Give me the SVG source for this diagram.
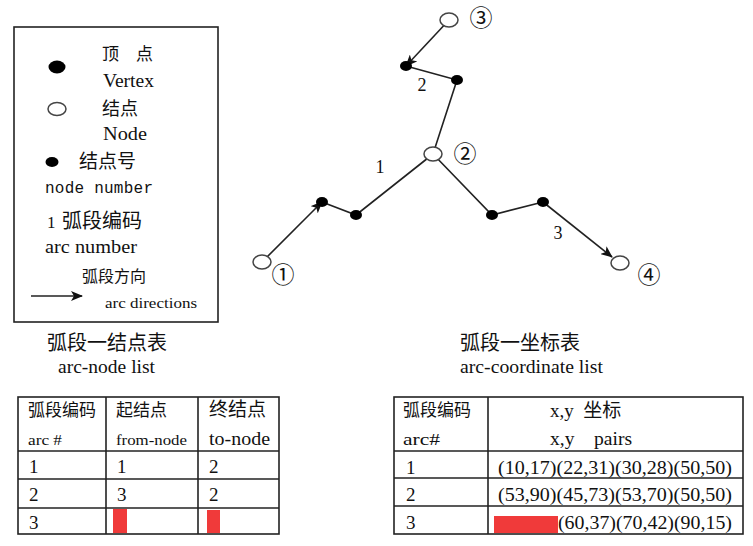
<svg xmlns="http://www.w3.org/2000/svg" width="753" height="546" viewBox="0 0 753 546">
<defs>
<marker id="ah" markerWidth="12" markerHeight="10" refX="11" refY="5" orient="auto" markerUnits="userSpaceOnUse">
<path d="M0,0 L12,5 L0,10 L3,5 Z" fill="#111"/>
</marker>
</defs>
<style>
text{font-family:"Liberation Serif","Noto Sans CJK SC",serif;fill:#111;}
.cjk{font-family:"Noto Sans CJK SC","Liberation Serif",sans-serif;}
.mono{font-family:"Liberation Mono",monospace;}
.node{fill:#fff;stroke:#444;stroke-width:1.5;}
.vtx{fill:#000;}
.arc{fill:none;stroke:#222;stroke-width:1.6;}
.tbl{fill:none;stroke:#222;stroke-width:1.6;}
.red{fill:#f03a3a;}
</style>
<rect width="753" height="546" fill="#fff"/>

<g id="legend">
<rect x="14" y="27" width="204" height="295" fill="none" stroke="#222" stroke-width="1.6"/>
<ellipse cx="57" cy="67" rx="8.5" ry="6.5" class="vtx"/>
<text x="102" y="60" class="cjk" font-size="17" textLength="51">顶 点</text>
<text x="103" y="87" font-size="18" textLength="51" lengthAdjust="spacingAndGlyphs">Vertex</text>
<ellipse cx="57" cy="109" rx="9" ry="6.5" class="node"/>
<text x="102" y="115" class="cjk" font-size="18">结点</text>
<text x="103" y="140" font-size="18" textLength="44" lengthAdjust="spacingAndGlyphs">Node</text>
<ellipse cx="52" cy="162" rx="6.5" ry="5" class="vtx"/>
<text x="79" y="168" class="cjk" font-size="19">结点号</text>
<text x="45" y="193" class="mono" font-size="16" textLength="108">node number</text>
<text x="47" y="228" font-size="17">1</text>
<text x="62" y="228" class="cjk" font-size="20">弧段编码</text>
<text x="45" y="253" font-size="18" textLength="92" lengthAdjust="spacingAndGlyphs">arc number</text>
<text x="82" y="282" class="cjk" font-size="16">弧段方向</text>
<line x1="31" y1="296" x2="82" y2="296" class="arc" marker-end="url(#ah)"/>
<text x="105" y="308" font-size="14" textLength="92" lengthAdjust="spacingAndGlyphs">arc directions</text>
</g>

<g id="connectors">
<polyline class="arc" points="262,262 322,202" marker-end="url(#ah)"/>
<polyline class="arc" points="322,202 356,215 433,154"/>
<polyline class="arc" points="449,20 406,66" marker-end="url(#ah)"/>
<polyline class="arc" points="406,66 457,80 433,154"/>
<polyline class="arc" points="433,154 492,215 543,202"/>
<polyline class="arc" points="543,202 612,257" marker-end="url(#ah)"/>
</g>

<g id="vertices">
<ellipse cx="322" cy="202" rx="6" ry="5" class="vtx"/>
<ellipse cx="356" cy="215" rx="6" ry="5" class="vtx"/>
<ellipse cx="406" cy="66" rx="6" ry="5" class="vtx"/>
<ellipse cx="457" cy="80" rx="6" ry="5" class="vtx"/>
<ellipse cx="492" cy="215" rx="6" ry="5" class="vtx"/>
<ellipse cx="543" cy="202" rx="6" ry="5" class="vtx"/>
</g>

<g id="node1">
<ellipse cx="262" cy="262" rx="9" ry="7" class="node"/>
<text x="283" y="283" class="cjk" font-size="23" text-anchor="middle">①</text>
</g>
<g id="node2">
<ellipse cx="433" cy="154" rx="9" ry="7" class="node"/>
<text x="465" y="162" class="cjk" font-size="23" text-anchor="middle">②</text>
</g>
<g id="node3">
<ellipse cx="449" cy="20" rx="9" ry="7" class="node"/>
<text x="481" y="26" class="cjk" font-size="23" text-anchor="middle">③</text>
</g>
<g id="node4">
<ellipse cx="620" cy="263" rx="9" ry="7" class="node"/>
<text x="649" y="283" class="cjk" font-size="23" text-anchor="middle">④</text>
</g>

<g id="arc-labels">
<text x="380" y="173" font-size="18" text-anchor="middle">1</text>
<text x="422" y="91" font-size="18" text-anchor="middle">2</text>
<text x="558" y="239" font-size="18" text-anchor="middle">3</text>
</g>

<g id="arc-node-table">
<text x="47" y="350" class="cjk" font-size="20">弧段一结点表</text>
<text x="58" y="373" font-size="18" textLength="97" lengthAdjust="spacingAndGlyphs">arc-node list</text>
<rect x="18" y="397" width="261" height="137" class="tbl"/>
<line x1="106" y1="397" x2="106" y2="534" class="tbl"/>
<line x1="198" y1="397" x2="198" y2="534" class="tbl"/>
<line x1="18" y1="451" x2="279" y2="451" class="tbl"/>
<line x1="18" y1="479" x2="279" y2="479" class="tbl"/>
<line x1="18" y1="508" x2="279" y2="508" class="tbl"/>
<text x="28" y="416" class="cjk" font-size="17">弧段编码</text>
<text x="28" y="445" font-size="15" textLength="34" lengthAdjust="spacingAndGlyphs">arc #</text>
<text x="116" y="416" class="cjk" font-size="17">起结点</text>
<text x="116" y="445" font-size="15" textLength="71" lengthAdjust="spacingAndGlyphs">from-node</text>
<text x="209" y="416" class="cjk" font-size="19">终结点</text>
<text x="209" y="445" font-size="18" textLength="61" lengthAdjust="spacingAndGlyphs">to-node</text>
<text x="29" y="473" font-size="19">1</text>
<text x="117" y="473" font-size="19">1</text>
<text x="209" y="473" font-size="19">2</text>
<text x="29" y="501" font-size="19">2</text>
<text x="117" y="501" font-size="19">3</text>
<text x="209" y="501" font-size="19">2</text>
<text x="29" y="529" font-size="19">3</text>
<rect x="113" y="509" width="14" height="24" class="red"/>
<rect x="207" y="510" width="13" height="23" class="red"/>
</g>

<g id="arc-coordinate-table">
<text x="460" y="350" class="cjk" font-size="20">弧段一坐标表</text>
<text x="460" y="373" font-size="18" textLength="143" lengthAdjust="spacingAndGlyphs">arc-coordinate list</text>
<rect x="394" y="397" width="349" height="137" class="tbl"/>
<line x1="488" y1="397" x2="488" y2="534" class="tbl"/>
<line x1="394" y1="451" x2="743" y2="451" class="tbl"/>
<line x1="394" y1="478" x2="743" y2="478" class="tbl"/>
<line x1="394" y1="506" x2="743" y2="506" class="tbl"/>
<text x="403" y="416" class="cjk" font-size="17">弧段编码</text>
<text x="403" y="445" font-size="17" textLength="37" lengthAdjust="spacingAndGlyphs">arc#</text>
<text x="550" y="417" font-size="19" xml:space="preserve">x,y  <tspan class="cjk" font-size="19">坐标</tspan></text>
<text x="550" y="445" font-size="19" xml:space="preserve" textLength="82" lengthAdjust="spacingAndGlyphs">x,y    pairs</text>
<text x="406" y="474" font-size="19">1</text>
<text x="498" y="474" font-size="19" textLength="234" lengthAdjust="spacingAndGlyphs">(10,17)(22,31)(30,28)(50,50)</text>
<text x="406" y="501" font-size="19">2</text>
<text x="498" y="501" font-size="19" textLength="234" lengthAdjust="spacingAndGlyphs">(53,90)(45,73)(53,70)(50,50)</text>
<text x="406" y="529" font-size="19">3</text>
<rect x="494" y="516" width="64" height="17" class="red"/>
<text x="558" y="529" font-size="19" textLength="174" lengthAdjust="spacingAndGlyphs">(60,37)(70,42)(90,15)</text>
</g>
</svg>
